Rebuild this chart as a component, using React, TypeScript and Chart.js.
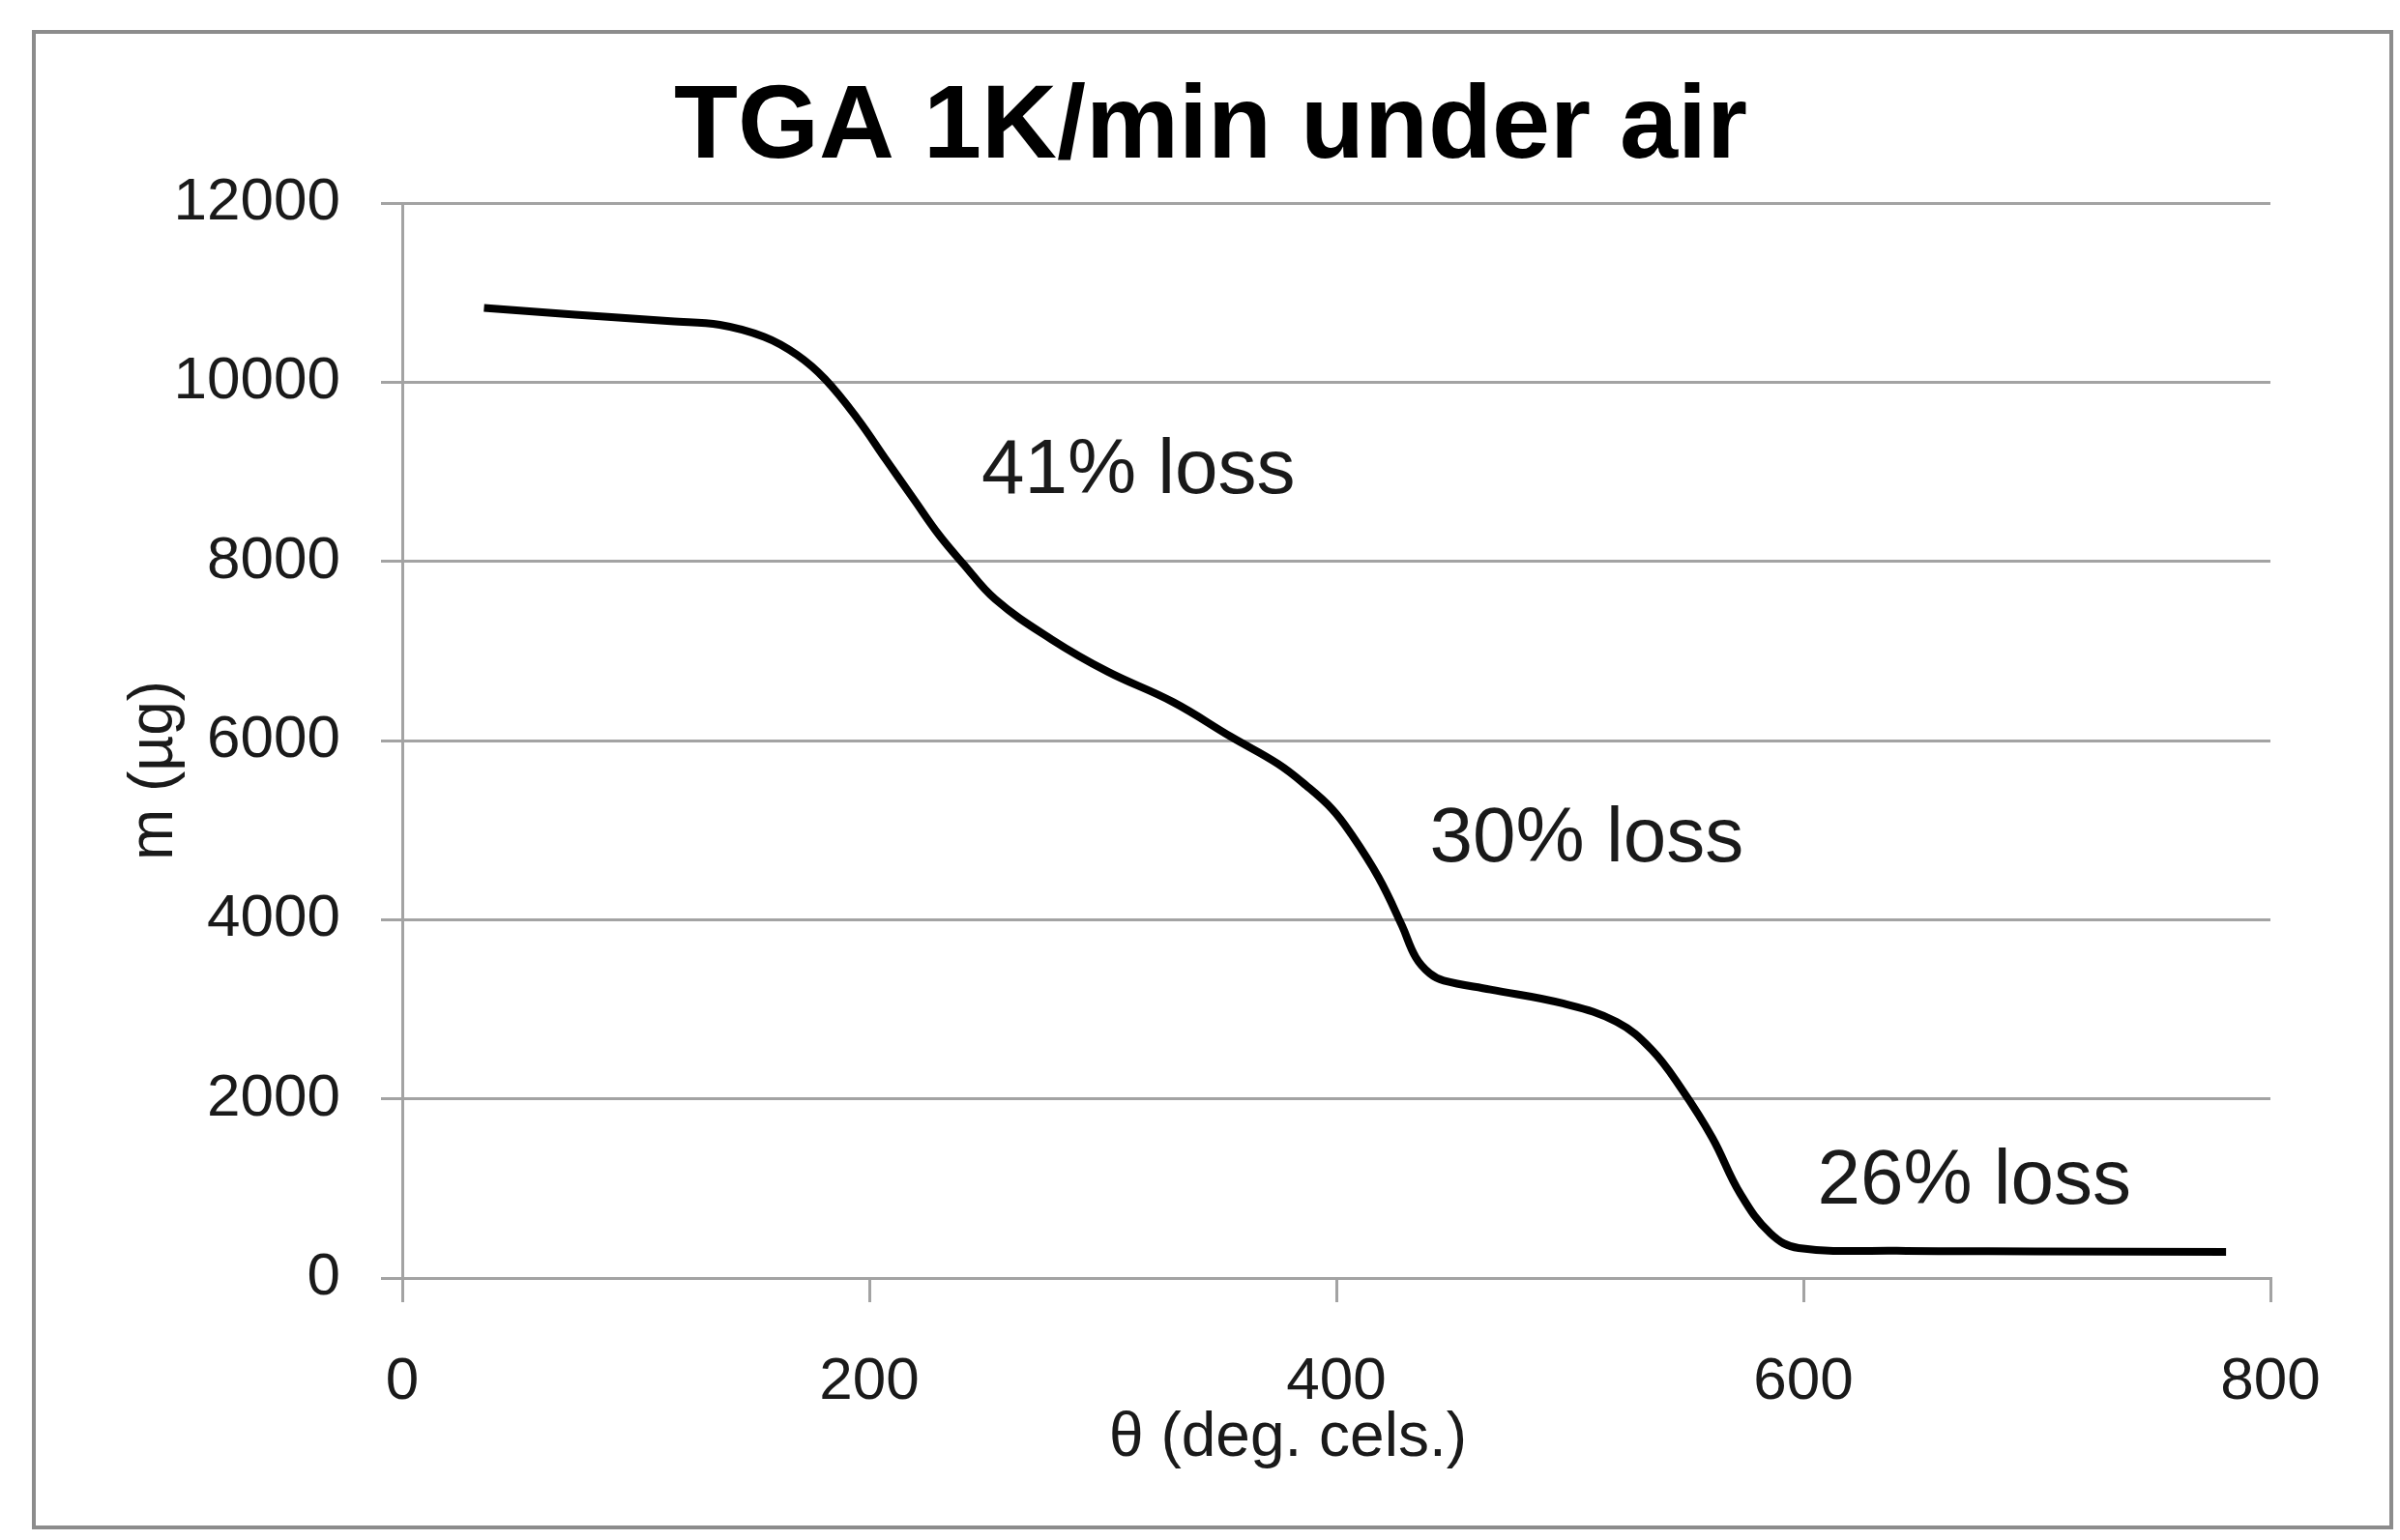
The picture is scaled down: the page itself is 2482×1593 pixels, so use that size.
import { useEffect, useRef } from "react"
import { Chart, registerables, type ChartConfiguration, type Plugin } from "chart.js"

Chart.register(...registerables)

// TGA trace: temperature (deg C) vs sample mass (µg)
const temperature = [
  35, 60, 88, 115, 136, 155, 169, 181, 195, 207, 219, 230, 240, 254, 278, 302, 330, 355, 375, 387,
  398, 406, 418, 428, 434, 440, 446, 466, 497, 520, 535, 548, 561, 573, 586, 598, 640, 700, 781,
]
const mass = [
  10830, 10780, 10730, 10680, 10640, 10505, 10305, 10035, 9590, 9140, 8695, 8290, 7980, 7575, 7130,
  6770, 6430, 6040, 5740, 5500, 5240, 4970, 4475, 3940, 3580, 3400, 3320, 3220, 3065, 2860, 2550,
  2105, 1565, 940, 495, 335, 305, 298, 291,
]

const xTicks = [0, 200, 400, 600, 800]
const yTicks = [0, 2000, 4000, 6000, 8000, 10000, 12000]

// step annotations, anchored in data space (left edge, text baseline)
const lossLabels = ["41% loss", "30% loss", "26% loss"]
const lossAtT = [248, 440, 606]
const lossAtM = [8760, 4650, 830]

const TITLE = "TGA 1K/min under air"
const X_TITLE = "θ (deg. cels.)"
const Y_TITLE = "m (µg)"

const FONT = "'Liberation Sans', Arial, sans-serif"
const GRID = "#a3a3a3"
const TEXT = "#1a1a1a"

const decorations: Plugin<"line"> = {
  id: "decorations",
  beforeDraw(chart) {
    const { ctx } = chart
    ctx.save()
    ctx.fillStyle = "#ffffff"
    ctx.fillRect(0, 0, chart.width, chart.height)
    // outer frame
    ctx.strokeStyle = "#8c8c8c"
    ctx.lineWidth = 4
    ctx.strokeRect(35, 33, 2438, 1547)
    ctx.restore()
  },
  afterDraw(chart) {
    const { ctx, scales } = chart
    ctx.save()
    ctx.fillStyle = "#000"
    ctx.textBaseline = "alphabetic"

    ctx.textAlign = "center"
    ctx.font = `bold 108px ${FONT}`
    ctx.fillText(TITLE, 1252, 163)

    ctx.fillStyle = TEXT
    ctx.font = `64px ${FONT}`
    ctx.fillText(X_TITLE, 1332, 1506)

    ctx.save()
    ctx.translate(178, 797)
    ctx.rotate(-Math.PI / 2)
    ctx.fillText(Y_TITLE, 0, 0)
    ctx.restore()

    ctx.textAlign = "left"
    ctx.font = `80px ${FONT}`
    lossLabels.forEach((label, i) => {
      ctx.fillText(label, scales.x.getPixelForValue(lossAtT[i]), scales.y.getPixelForValue(lossAtM[i]))
    })
    ctx.restore()
  },
}

export default function App() {
  const chartRef = useRef<HTMLCanvasElement>(null)
  const chartInstance = useRef<Chart | null>(null)

  useEffect(() => {
    if (!chartRef.current) return
    const ctx = chartRef.current.getContext("2d")
    if (!ctx) return

    if (chartInstance.current) {
      chartInstance.current.destroy()
    }

    const config: ChartConfiguration<"line"> = {
      type: "line",
      data: {
        datasets: [
          {
            label: "TGA",
            data: temperature.map((t, i) => ({ x: t, y: mass[i] })),
            borderColor: "#000000",
            borderWidth: 8,
            pointRadius: 0,
            tension: 0.4,
            fill: false,
          },
        ],
      },
      options: {
        responsive: true,
        maintainAspectRatio: false,
        animation: false,
        layout: {
          padding: { top: 210, right: 134, left: 0, bottom: 0 },
        },
        plugins: {
          legend: { display: false },
          tooltip: { enabled: false },
          title: { display: false },
        },
        scales: {
          x: {
            type: "linear",
            min: 0,
            max: 800,
            afterBuildTicks: (scale) => {
              scale.ticks = xTicks.map((v) => ({ value: v }))
            },
            afterFit: (scale) => {
              scale.height = 271
            },
            grid: {
              drawOnChartArea: false,
              drawTicks: true,
              tickLength: 25,
              color: GRID,
              lineWidth: 3,
            },
            border: { display: true, color: GRID, width: 3 },
            ticks: {
              padding: 46,
              color: TEXT,
              maxRotation: 0,
              font: { family: FONT, size: 62 },
              callback: (value) => String(value),
            },
          },
          y: {
            type: "linear",
            min: 0,
            max: 12000,
            afterBuildTicks: (scale) => {
              scale.ticks = yTicks.map((v) => ({ value: v }))
            },
            afterFit: (scale) => {
              scale.width = 416
            },
            grid: {
              tickLength: 22,
              color: GRID,
              lineWidth: 3,
            },
            border: { display: true, color: GRID, width: 3 },
            ticks: {
              padding: 42,
              color: TEXT,
              font: { family: FONT, size: 62 },
              callback: (value) => String(value),
            },
          },
        },
      },
      plugins: [decorations],
    }

    chartInstance.current = new Chart(ctx, config)

    return () => {
      if (chartInstance.current) {
        chartInstance.current.destroy()
        chartInstance.current = null
      }
    }
  }, [])

  return (
    <div style={{ position: "absolute", left: 0, top: 0, width: 2482, height: 1593, background: "#fff" }}>
      <canvas ref={chartRef} />
    </div>
  )
}
